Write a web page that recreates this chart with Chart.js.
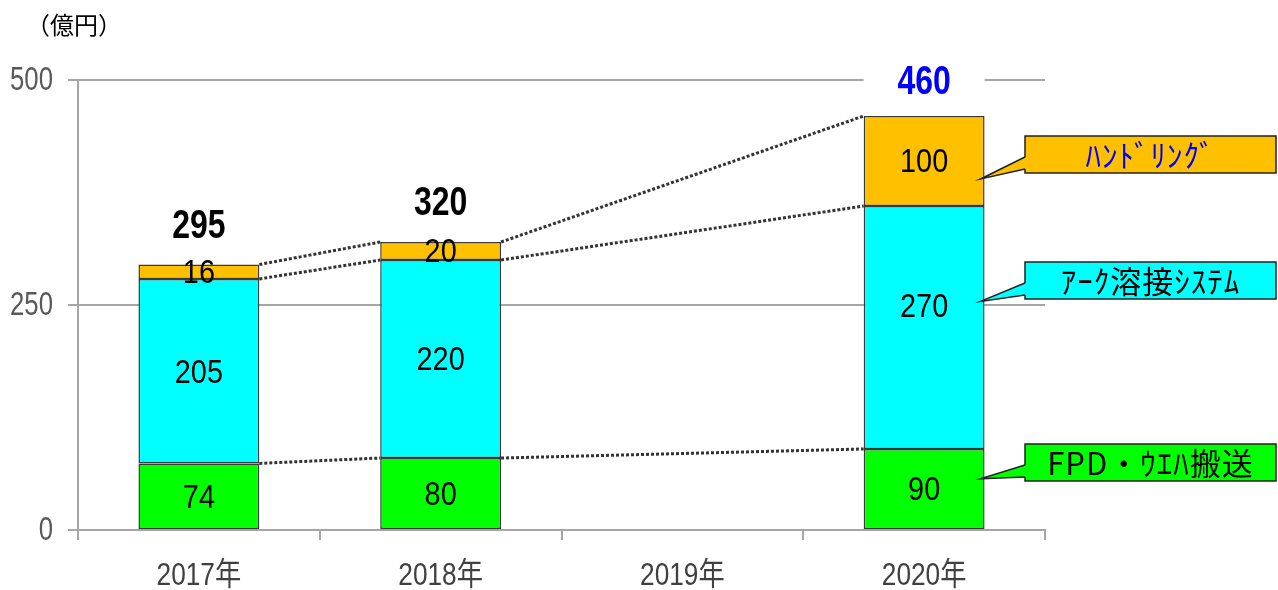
<!DOCTYPE html>
<html>
<head>
<meta charset="utf-8">
<script src="https://cdn.jsdelivr.net/npm/chart.js@4/dist/chart.umd.min.js"></script>
<style>
  html, body { margin: 0; padding: 0; background: #fff; }
  #wrap { width: 1278px; height: 590px; }
</style>
</head>
<body>
<div id="wrap"><canvas id="salesChart" width="1278" height="590"></canvas></div>
<script>
// data
const years = ['2017年', '2018年', '2019年', '2020年'];
const fpdValues = [74, 80, null, 90];
const arcValues = [205, 220, null, 270];
const handlingValues = [16, 20, null, 100];
const totalValues = [295, 320, null, 460];
const seriesNames = ['FPD・ｳｴﾊ搬送', 'ｱｰｸ溶接ｼｽﾃﾑ', 'ﾊﾝﾄﾞﾘﾝｸﾞ'];
const yTickValues = [0, 250, 500];

const SANS = "'Liberation Sans', 'Noto Sans CJK JP', sans-serif";
const JP = "'Noto Sans CJK JP', sans-serif";
const colors = ['#00FF00', '#00FFFF', '#FFC000'];

// text squeezed horizontally, to look like the narrow font of the original
function narrowText(ctx, text, x, y, font, sx, align) {
    ctx.save();
    ctx.translate(x, y);
    ctx.scale(sx, 1);
    ctx.font = font;
    ctx.textAlign = align;
    ctx.textBaseline = 'middle';
    ctx.fillText(text, 0, 0);
    ctx.restore();
}

const overlayPlugin = {
    id: 'overlay',
    afterDraw(chart) {
        const ctx = chart.ctx;
        const xScale = chart.scales.x;
        const yScale = chart.scales.y;

        // axis tick labels
        ctx.save();
        ctx.fillStyle = '#595959';
        yScale.ticks.forEach(function(t, i) {
            narrowText(ctx, String(t.value), 53, yScale.getPixelForTick(i) + 1,
                '33px ' + SANS, 0.78, 'right');
        });
        ctx.fillStyle = '#404040';
        xScale.ticks.forEach(function(t, i) {
            narrowText(ctx, years[i], xScale.getPixelForTick(i), 576,
                '32px ' + SANS, 0.82, 'center');
        });
        ctx.restore();

        // dotted connectors between bar tops
        ctx.save();
        ctx.strokeStyle = '#333';
        ctx.lineWidth = 3;
        ctx.setLineDash([3, 2]);
        chart.data.datasets.forEach(function(ds, di) {
            const meta = chart.getDatasetMeta(di);
            let prev = null;
            ds.data.forEach(function(v, i) {
                if (v === null) return;
                const el = meta.data[i];
                if (prev) {
                    ctx.beginPath();
                    ctx.moveTo(prev.x + prev.width / 2, prev.y);
                    ctx.lineTo(el.x - el.width / 2, el.y);
                    ctx.stroke();
                }
                prev = el;
            });
        });
        ctx.restore();

        const last = years.length - 1;

        // values inside segments
        ctx.save();
        ctx.fillStyle = '#000';
        chart.data.datasets.forEach(function(ds, di) {
            const meta = chart.getDatasetMeta(di);
            ds.data.forEach(function(v, i) {
                if (v === null) return;
                const el = meta.data[i];
                let cy = (el.y + el.base) / 2 + 2;
                if (di === 1 && i === last) cy -= 22;
                narrowText(ctx, String(v), el.x, cy, '34px ' + SANS, 0.85, 'center');
            });
        });

        // totals above bars
        const topMeta = chart.getDatasetMeta(2);
        totalValues.forEach(function(t, i) {
            if (t === null) return;
            const el = topMeta.data[i];
            if (i === last) {
                const ty = el.y - 33;
                ctx.fillStyle = '#fff';
                ctx.fillRect(el.x - el.width / 2, ty - 20, el.width, 38);
                ctx.fillStyle = '#0000FF';
                narrowText(ctx, String(t), el.x, ty, 'bold 40px ' + SANS, 0.8, 'center');
            } else {
                ctx.fillStyle = '#000';
                narrowText(ctx, String(t), el.x, el.y - 38, 'bold 40px ' + SANS, 0.8, 'center');
            }
        });
        ctx.restore();

        // callouts
        const bar = topMeta.data[last];
        const tipX = bar.x + bar.width / 2 - 4;
        const boxL = 1025, boxR = 1276;
        const callouts = [
            { name: seriesNames[2], fill: colors[2], text: '#0000FF', top: 136, tip: 390 },
            { name: seriesNames[1], fill: colors[1], text: '#000', top: 262, tip: 254 },
            { name: seriesNames[0], fill: colors[0], text: '#000', top: 444, tip: 57 }
        ];
        ctx.save();
        callouts.forEach(function(c) {
            const h = 37;
            const ty = yScale.getPixelForValue(c.tip);
            ctx.fillStyle = c.fill;
            ctx.strokeStyle = '#222';
            ctx.lineWidth = 1.5;
            ctx.fillRect(boxL, c.top, boxR - boxL, h);
            ctx.strokeRect(boxL, c.top, boxR - boxL, h);
            // pointer
            ctx.beginPath();
            ctx.moveTo(boxL + 1, c.top + 21);
            ctx.lineTo(tipX, ty);
            ctx.lineTo(boxL + 1, c.top + 33);
            ctx.closePath();
            ctx.fill();
            ctx.beginPath();
            ctx.moveTo(boxL, c.top + 21);
            ctx.lineTo(tipX, ty);
            ctx.lineTo(boxL, c.top + 33);
            ctx.stroke();
            ctx.fillStyle = c.text;
            ctx.font = '31px ' + JP;
            ctx.letterSpacing = '1px';
            ctx.textAlign = 'center';
            ctx.textBaseline = 'middle';
            ctx.fillText(c.name, (boxL + boxR) / 2, c.top + h / 2 + 1);
            ctx.letterSpacing = '0px';
        });
        ctx.restore();

        // unit label
        ctx.save();
        ctx.fillStyle = '#000';
        ctx.font = '24px ' + JP;
        ctx.textAlign = 'left';
        ctx.textBaseline = 'middle';
        ctx.fillText('（億円）', 26, 25);
        ctx.restore();
    }
};

function makeDataset(label, values, color) {
    return {
        label: label,
        data: values,
        backgroundColor: color,
        borderColor: '#3a3a3a',
        borderWidth: 1.5,
        borderSkipped: false,
        barPercentage: 0.5,
        categoryPercentage: 1.0
    };
}

new Chart(document.getElementById('salesChart'), {
    type: 'bar',
    data: {
        labels: years,
        datasets: [
            makeDataset(seriesNames[0], fpdValues, colors[0]),
            makeDataset(seriesNames[1], arcValues, colors[1]),
            makeDataset(seriesNames[2], handlingValues, colors[2])
        ]
    },
    options: {
        responsive: false,
        animation: false,
        layout: { padding: { top: 80, right: 233, left: 0, bottom: 0 } },
        plugins: {
            legend: { display: false },
            tooltip: { enabled: false }
        },
        scales: {
            x: {
                stacked: true,
                offset: true,
                grid: {
                    offset: true,
                    drawOnChartArea: false,
                    color: '#A6A6A6',
                    lineWidth: 2,
                    tickLength: 10
                },
                border: { color: '#A6A6A6', width: 2 },
                ticks: { display: false },
                afterFit(scale) { scale.height = 60; }
            },
            y: {
                stacked: true,
                min: 0,
                max: 500,
                afterBuildTicks(scale) {
                    scale.ticks = yTickValues.map(function(v) { return { value: v }; });
                },
                grid: {
                    color: '#A6A6A6',
                    lineWidth: 2,
                    tickLength: 10
                },
                border: { color: '#A6A6A6', width: 2 },
                ticks: { display: false },
                afterFit(scale) { scale.width = 78; }
            }
        }
    },
    plugins: [overlayPlugin]
});
</script>
</body>
</html>
